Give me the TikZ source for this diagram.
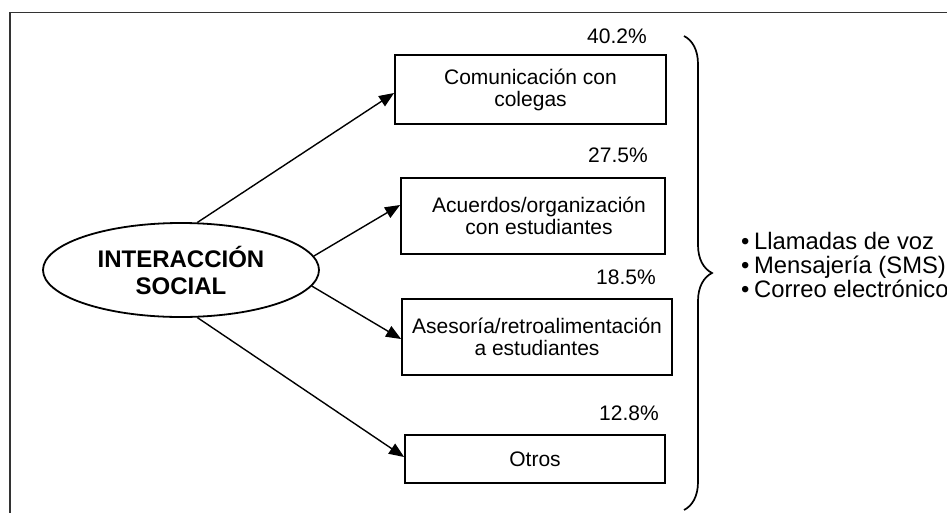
\documentclass[tikz,border=0pt]{standalone}
\usepackage{fontspec}
\setmainfont{Liberation Sans}
\usetikzlibrary{shapes.geometric,arrows.meta,calc,decorations.pathreplacing}
\begin{document}
\begin{tikzpicture}[x=1pt,y=-1pt,
  boxst/.style={draw, line width=1.8pt, inner sep=0pt, align=center,
    font=\fontsize{21}{22}\selectfont},
  pct/.style={font=\fontsize{21}{24}\selectfont, inner sep=0pt},
  arr/.style={line width=1.4pt, -{Triangle[length=15pt,width=12pt]}}
]
\useasboundingbox (0,0) rectangle (947,512);
\clip (0,0) rectangle (947,512);
\fill[white] (0,0) rectangle (947,512);
% frame
\draw[line width=1.5pt, black!80] (960,12.5) -- (10,12.5) -- (10,520);
% ellipse
\node[ellipse, draw, line width=1.8pt, minimum width=276pt, minimum height=94pt,
  inner sep=0pt, align=center, font=\bfseries\fontsize{24}{27}\selectfont]
  (is) at (181,270) {INTERACCIÓN\\SOCIAL};
% boxes
\node[boxst, minimum width=271pt, minimum height=69pt] (b1) at (530.5,89.5) {Comunicación con\\colegas};
\node[boxst, minimum width=264pt, minimum height=76pt] (b2) at (533,216) {\hspace*{12pt}Acuerdos/organización\\\hspace*{12pt}con estudiantes};
\node[boxst, minimum width=270pt, minimum height=76pt] (b3) at (537,337) {Asesoría/retroalimentación\\a estudiantes};
\node[boxst, minimum width=260pt, minimum height=48pt] (b4) at (535,459) {Otros};
% percentages
\node[pct] (p1) at (617,36) {40.2\%};
\node[pct] (p2) at (618,155) {27.5\%};
\node[pct] (p3) at (626,277) {18.5\%};
\node[pct] (p4) at (629,413) {12.8\%};
% arrows
\draw[arr] (is.71) -- ($(b1.west)+(0,3.5)$);
\draw[arr] (is.6) -- ($(b2.west)+(0,-11)$);
\draw[arr] (is.-7) -- ($(b3.west)+(0,2)$);
\draw[arr] (is.-71) -- ($(b4.west)+(0,-2)$);
% brace
\coordinate (bt) at (684,36);
\coordinate (bb) at (684,510);
\draw[line width=1.7pt, decorate, decoration={brace, amplitude=28pt}] (bt) -- (bb);
% bullet list
\node[anchor=west, align=left, inner sep=0pt, font=\fontsize{23.8}{24}\selectfont]
  (lst) at (741,265) {•\hspace{-2pt} Llamadas de voz\\•\hspace{-2pt} Mensajería (SMS)\\•\hspace{-2pt} Correo electrónico};
\end{tikzpicture}
\end{document}
